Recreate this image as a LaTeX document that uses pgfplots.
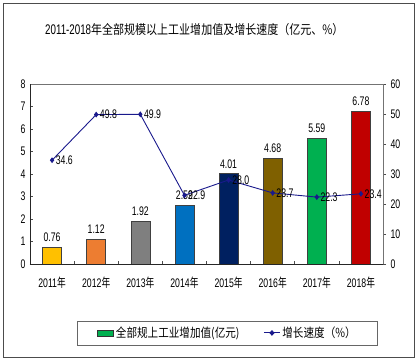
\documentclass[border=0pt]{standalone}
\usepackage{pgfplots}
\pgfplotsset{compat=1.18}
\usepackage{fontspec}
\setmainfont{Liberation Sans}[FakeStretch=0.7]
\newfontfamily\cjk{Noto Sans CJK SC}[FakeStretch=0.85]
\newfontfamily\cjkn{Noto Sans CJK SC}[FakeStretch=0.7]
\definecolor{c1}{RGB}{255,192,0}
\definecolor{c2}{RGB}{237,125,49}
\definecolor{c3}{RGB}{127,127,127}
\definecolor{c4}{RGB}{0,112,192}
\definecolor{c5}{RGB}{0,32,96}
\definecolor{c6}{RGB}{127,96,0}
\definecolor{c7}{RGB}{0,176,80}
\definecolor{c8}{RGB}{192,0,0}
\definecolor{linec}{RGB}{25,25,140}
\pgfplotsset{
  barstyle/.style={ybar, bar width=19bp, bar shift=0pt, draw=black!75, line width=0.6bp,
    nodes near coords={\pgfmathprintnumber[fixed,fixed zerofill,precision=2]{\pgfplotspointmeta}},
    nodes near coords style={font=\fontsize{12.5}{13}\selectfont, text=black, anchor=south, yshift=2bp}},
}
\begin{document}
\begin{tikzpicture}[x=1bp,y=1bp]
\path[use as bounding box] (-30,-100) rectangle (389,264);
\draw[black!70, line width=0.8bp] (-27,-93) rectangle (384,261);
\node[font=\fontsize{14}{16}\selectfont, anchor=west, inner sep=0pt] at (15,234) {2011-2018{\cjk\fontsize{13}{16}\selectfont 年全部规模以上工业增加值及增长速度（亿元、\%）}};
\begin{axis}[
  at={(0,0)}, anchor=south west,
  scale only axis, width=353bp, height=180bp,
  xmin=-0.5, xmax=7.5, ymin=0, ymax=8,
  ytick={0,...,8},
  ytick pos=left,
  xtick={0,...,7},
  xticklabels={2011{\cjkn 年},2012{\cjkn 年},2013{\cjkn 年},2014{\cjkn 年},2015{\cjkn 年},2016{\cjkn 年},2017{\cjkn 年},2018{\cjkn 年}},
  xtick pos=bottom,
  major x tick style={draw=none},
  minor xtick={0.5,1.5,...,6.5},
  tick align=inside,
  major tick length=3bp, minor tick length=3bp,
  tick style={black!70, line width=0.6bp},
  axis line style={black!55, line width=0.7bp},
  /pgf/number format/assume math mode=true,
  ticklabel style={font=\fontsize{12.5}{13}\selectfont},
  xticklabel style={yshift=-9bp},
  yticklabel style={xshift=-1bp},
  clip=false,
]
\addplot[barstyle, fill=c1] coordinates {(0,0.76)};
\addplot[barstyle, fill=c2] coordinates {(1,1.12)};
\addplot[barstyle, fill=c3] coordinates {(2,1.92)};
\addplot[barstyle, fill=c4] coordinates {(3,2.59)};
\addplot[barstyle, fill=c5] coordinates {(4,4.01)};
\addplot[barstyle, fill=c6] coordinates {(5,4.68)};
\addplot[barstyle, fill=c7] coordinates {(6,5.59)};
\addplot[barstyle, fill=c8] coordinates {(7,6.78)};
\draw[black!85, line width=0.8bp] (axis cs:-0.5,0) -- (axis cs:-0.5,8);
\draw[black!85, line width=0.8bp] (axis cs:-0.5,0) -- (axis cs:7.5,0);
\end{axis}
\begin{axis}[
  at={(0,0)}, anchor=south west,
  scale only axis, width=353bp, height=180bp,
  xmin=-0.5, xmax=7.5, ymin=0, ymax=60,
  ytick={0,10,...,60},
  axis y line*=right,
  hide x axis,
  tick align=outside,
  major tick length=3bp,
  tick style={black!70, line width=0.6bp},
  axis line style={black!55, line width=0.7bp},
  /pgf/number format/assume math mode=true,
  ticklabel style={font=\fontsize{12.5}{13}\selectfont},
  yticklabel style={xshift=1bp},
  clip=false,
  legend style={at={(0.5595,-0.383)}, anchor=center, draw=black!60, line width=0.6bp,
    font=\cjk\fontsize{12.5}{14}\selectfont, legend columns=2,
    inner xsep=20bp, inner ysep=4bp,
    /tikz/every even column/.append style={column sep=22bp}},
  legend image code/.code={\draw[#1, line width=0.6bp] (0bp,-3bp) rectangle (16bp,3bp);},
]
\addlegendimage{fill=c7, draw=black!80}
\addlegendentry{全部规上工业增加值(亿元)}
\addplot[color=linec, line width=0.9bp, mark=diamond*, mark size=2.2bp,
  mark options={fill=linec, solid},
  legend image code/.code={\draw[linec, line width=0.9bp] (0bp,0bp) -- (16bp,0bp); \fill[linec] (8bp,2.2bp) -- (10bp,0bp) -- (8bp,-2.2bp) -- (6bp,0bp) -- cycle;},
  nodes near coords={\pgfmathprintnumber[fixed,fixed zerofill,precision=1]{\pgfplotspointmeta}},
  nodes near coords style={font=\fontsize{12.5}{13}\selectfont, text=black, anchor=west, xshift=0bp}]
  coordinates {(0,34.6) (1,49.8) (2,49.9) (3,22.9) (4,28.0) (5,23.7) (6,22.3) (7,23.4)};
\addlegendentry{增长速度（\%）}
\end{axis}
\end{tikzpicture}
\end{document}
